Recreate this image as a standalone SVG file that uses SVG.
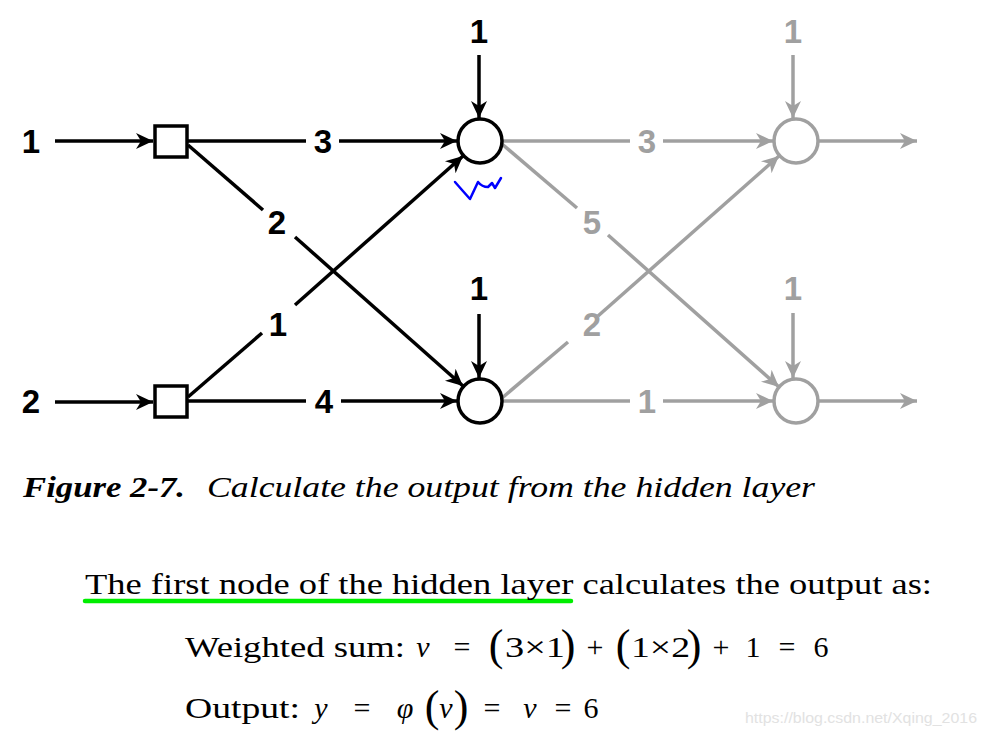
<svg xmlns="http://www.w3.org/2000/svg" width="986" height="738" viewBox="0 0 986 738">
<style>
.k{stroke:#000;stroke-width:3.5;fill:none}
.g{stroke:#a0a0a0;stroke-width:3.5;fill:none}
.ka{marker-end:url(#ak)}
.ga{marker-end:url(#ag)}
.lk{font-size:33px;font-weight:bold;fill:#000;text-anchor:middle}
.lg{font-size:33px;font-weight:bold;fill:#a0a0a0;text-anchor:middle}
.t{font-size:30px;fill:#000}
.m{font-size:30px;fill:#000;text-anchor:middle}
.mi{font-style:italic}
.p{font-size:44px;fill:#000;text-anchor:middle}
</style>
<defs>
<marker id="ak" markerUnits="userSpaceOnUse" viewBox="-17 -9 18 18" refX="0" refY="0" markerWidth="18" markerHeight="18" orient="auto">
<path d="M0,0 L-17,-8 L-12,0 L-17,8 z" fill="#000"/>
</marker>
<marker id="ag" markerUnits="userSpaceOnUse" viewBox="-17 -9 18 18" refX="0" refY="0" markerWidth="18" markerHeight="18" orient="auto">
<path d="M0,0 L-17,-8 L-12,0 L-17,8 z" fill="#a0a0a0"/>
</marker>
</defs>
<rect width="986" height="738" fill="#fff"/>

<g id="connectors">
<line class="k ka" x1="55" y1="141" x2="153" y2="141"/>
<line class="k ka" x1="55" y1="402" x2="153" y2="402"/>
<line class="k" x1="188" y1="141" x2="306" y2="141"/>
<line class="k ka" x1="339" y1="141" x2="457" y2="141"/>
<line class="k" x1="188" y1="401" x2="306" y2="401"/>
<line class="k ka" x1="341" y1="401" x2="457" y2="401"/>
<line class="k" x1="188" y1="145" x2="263" y2="210"/>
<line class="k ka" x1="295" y1="237" x2="463" y2="386"/>
<line class="k" x1="188" y1="397" x2="262" y2="333"/>
<line class="k ka" x1="295" y1="305" x2="463" y2="156"/>
<line class="k ka" x1="479" y1="55" x2="479" y2="118"/>
<line class="k ka" x1="479" y1="314" x2="479" y2="378"/>

<line class="g" x1="502" y1="141" x2="630" y2="141"/>
<line class="g ga" x1="663" y1="141" x2="773" y2="141"/>
<line class="g" x1="502" y1="401" x2="630" y2="401"/>
<line class="g ga" x1="663" y1="401" x2="773" y2="401"/>
<line class="g" x1="502" y1="144" x2="577" y2="208"/>
<line class="g ga" x1="608" y1="235" x2="779" y2="387"/>
<line class="g" x1="502" y1="398" x2="568" y2="342"/>
<line class="g ga" x1="598" y1="316" x2="779" y2="156"/>
<line class="g ga" x1="793" y1="55" x2="793" y2="118"/>
<line class="g ga" x1="793" y1="313" x2="793" y2="378"/>
<line class="g ga" x1="819" y1="141" x2="917" y2="141"/>
<line class="g ga" x1="819" y1="401" x2="917" y2="401"/>
</g>

<g id="in1"><rect x="155" y="126" width="32" height="31" fill="#fff" stroke="#000" stroke-width="3.5"/></g>
<g id="in2"><rect x="155" y="386" width="32" height="31" fill="#fff" stroke="#000" stroke-width="3.5"/></g>
<g id="h1"><circle cx="480" cy="141" r="22" fill="#fff" stroke="#000" stroke-width="3.5"/></g>
<g id="h2"><circle cx="480" cy="401" r="22" fill="#fff" stroke="#000" stroke-width="3.5"/></g>
<g id="o1"><circle cx="796" cy="141" r="22" fill="#fff" stroke="#a0a0a0" stroke-width="3.5"/></g>
<g id="o2"><circle cx="796" cy="401" r="22" fill="#fff" stroke="#a0a0a0" stroke-width="3.5"/></g>

<g id="labels" font-family="Liberation Sans, Arial, sans-serif">
<text class="lk" x="31" y="153">1</text>
<text class="lk" x="31" y="413">2</text>
<text class="lk" x="323" y="153">3</text>
<text class="lk" x="324" y="413">4</text>
<text class="lk" x="277" y="234">2</text>
<text class="lk" x="278" y="336">1</text>
<text class="lk" x="479" y="43">1</text>
<text class="lk" x="479" y="300">1</text>
<text class="lg" x="647" y="153">3</text>
<text class="lg" x="647" y="413">1</text>
<text class="lg" x="592" y="234">5</text>
<text class="lg" x="592" y="336">2</text>
<text class="lg" x="793" y="43">1</text>
<text class="lg" x="793" y="300">1</text>
</g>

<path d="M455,182 L462,190 L470,199 L478,182 Q482,187 488,187 L492,183 L495,188 L501,178" fill="none" stroke="#0000ff" stroke-width="2.5" stroke-linecap="round" stroke-linejoin="round"/>

<g id="text" font-family="Liberation Serif, Times New Roman, serif">
<text class="t" x="23" y="497" font-weight="bold" font-style="italic" textLength="162" lengthAdjust="spacingAndGlyphs">Figure 2-7.</text>
<text class="t" x="207" y="497" font-style="italic" textLength="608" lengthAdjust="spacingAndGlyphs">Calculate the output from the hidden layer</text>

<line x1="85" y1="601" x2="571" y2="601" stroke="#00ee00" stroke-width="4.5" stroke-linecap="round"/>
<text class="t" x="85" y="594" textLength="847" lengthAdjust="spacingAndGlyphs">The first node of the hidden layer calculates the output as:</text>

<text class="t" x="185" y="657" textLength="220" lengthAdjust="spacingAndGlyphs">Weighted sum:</text>
<text class="m mi" x="423" y="657">v</text>
<text class="m" x="462" y="657">=</text>
<text class="p" x="496" y="660">(</text>
<text class="t" x="505" y="657" textLength="60" lengthAdjust="spacingAndGlyphs">3×1</text>
<text class="p" x="568" y="660">)</text>
<text class="m" x="595" y="657">+</text>
<text class="p" x="623" y="660">(</text>
<text class="t" x="631" y="657" textLength="59" lengthAdjust="spacingAndGlyphs">1×2</text>
<text class="p" x="694" y="660">)</text>
<text class="m" x="721" y="657">+</text>
<text class="m" x="753" y="657">1</text>
<text class="m" x="787" y="657">=</text>
<text class="m" x="821" y="657">6</text>

<text class="t" x="185" y="718" textLength="115" lengthAdjust="spacingAndGlyphs">Output:</text>
<text class="m mi" x="321" y="718">y</text>
<text class="m" x="362" y="718">=</text>
<text class="m mi" x="405" y="718">φ</text>
<text class="p" x="432" y="721">(</text>
<text class="m mi" x="446" y="718">v</text>
<text class="p" x="461" y="721">)</text>
<text class="m" x="492" y="718">=</text>
<text class="m mi" x="530" y="718">v</text>
<text class="m" x="563" y="718">=</text>
<text class="m" x="591" y="718">6</text>
</g>

<text x="745" y="723" font-family="Liberation Sans, Arial, sans-serif" font-size="15" fill="#e2e2e2" textLength="232" lengthAdjust="spacingAndGlyphs">https://blog.csdn.net/Xqing_2016</text>
</svg>
